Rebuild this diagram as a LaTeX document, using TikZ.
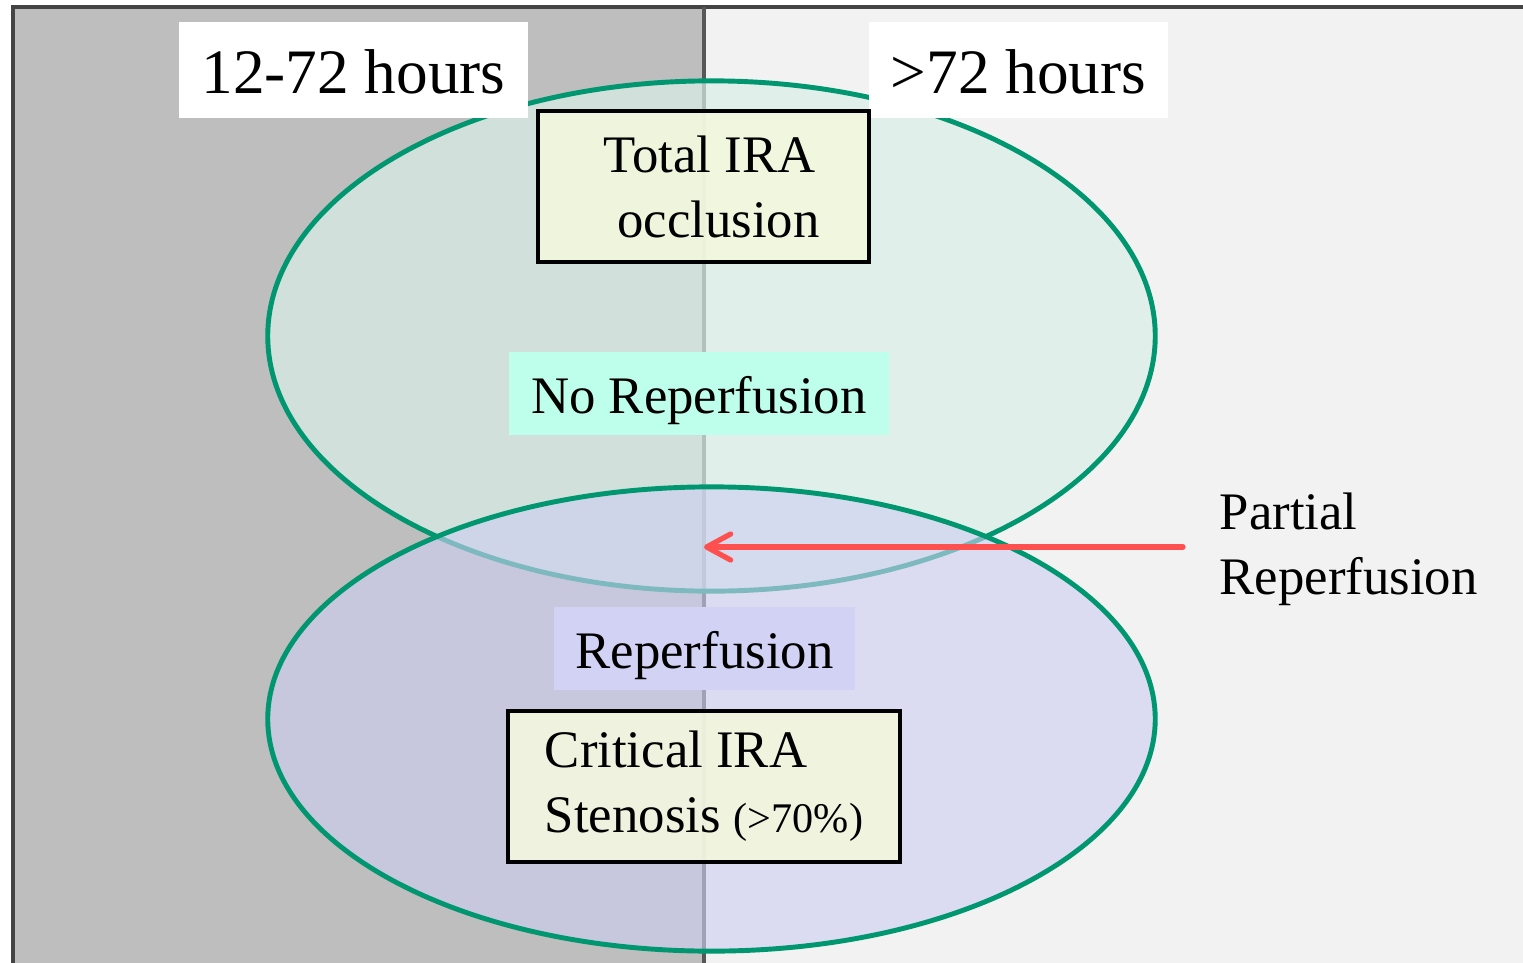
\documentclass[tikz,border=0pt]{standalone}
\usepackage{fontspec}
\setmainfont{Liberation Serif}
\definecolor{panelgray}{RGB}{190,190,190}
\definecolor{panellight}{RGB}{242,242,242}
\definecolor{framegray}{RGB}{68,68,68}
\definecolor{zonegreen}{RGB}{0,150,112}
\definecolor{occlfill}{RGB}{218,239,232}
\definecolor{reperfill}{RGB}{206,207,242}
\definecolor{boxyellow}{RGB}{243,247,222}
\definecolor{mintlabel}{RGB}{190,255,235}
\definecolor{lavlabel}{RGB}{210,210,245}
\definecolor{arrowred}{RGB}{255,80,80}
\usetikzlibrary{shapes,arrows.meta,positioning,calc}

\begin{document}
\begin{tikzpicture}[x=0.01cm, y=-0.01cm,
    zone/.style={ellipse, draw=zonegreen, line width=1.4pt, minimum width=8.87cm, inner sep=0pt},
    hourbox/.style={rectangle, fill=white, minimum height=0.96cm, inner sep=0pt,
                    text height=17.6pt, text depth=4pt, font=\fontsize{18}{21}\selectfont},
    findbox/.style={rectangle, draw=black, line width=1.3pt, fill=boxyellow, fill opacity=0.9,
                    text opacity=1, minimum height=1.51cm, inner sep=0pt,
                    font=\fontsize{15}{18.5}\selectfont},
    tagbox/.style={rectangle, minimum height=0.83cm, inner sep=0pt,
                   text height=14.5pt, text depth=3.3pt, font=\fontsize{15}{18.5}\selectfont}]
    \useasboundingbox (0,0) rectangle (1523,963);

    % Panels
    \fill[panelgray] (13,7) rectangle (704,963);
    \fill[panellight] (704,7) rectangle (1523,963);
    \draw[framegray, line width=1.3pt] (13,963) -- (13,7) -- (1523,7);
    \draw[framegray!90, line width=1.2pt] (704,7) -- (704,963);

    % Zones
    \node[zone, fill=occlfill, fill opacity=0.7, minimum height=5.1cm] (occl) at (711.5,336) {};
    \node[zone, fill=reperfill, fill opacity=0.62, minimum height=4.64cm] (reper) at (711.5,719) {};

    % Time labels
    \node[hourbox, minimum width=3.49cm] (early) at (353.5,70) {12-72 hours};
    \node[hourbox, minimum width=2.99cm] (late) at (1018.5,70) {>72 hours};

    % Findings
    \node[findbox, minimum width=3.31cm, align=center] (total) at (703.5,186.5)
        {\hspace*{0.12cm}Total IRA\\\hspace*{0.3cm}occlusion};
    \node[tagbox, fill=mintlabel, minimum width=3.8cm] (noreper) at (699,393.5) {No Reperfusion};
    \node[tagbox, fill=lavlabel, minimum width=3.01cm] (reperlab) at (704.5,648.5) {Reperfusion};
    \node[findbox, minimum width=3.92cm, align=left] (critical) at (704,786.5)
        {Critical IRA\\Stenosis {\fontsize{12}{14}\selectfont (>70\%)}};

    % Partial reperfusion
    \node[anchor=west, inner xsep=0.36cm, inner ysep=0pt, align=left,
          font=\fontsize{15}{18.5}\selectfont] (partial) at (1183,549) {Partial\\Reperfusion};
    \coordinate (mid) at (704,547);
    \draw[-{Straight Barb[length=0.24cm, width=0.26cm, round]}, arrowred, line width=1.5pt,
          line cap=round] (partial.west |- mid) -- (mid);
\end{tikzpicture}
\end{document}
